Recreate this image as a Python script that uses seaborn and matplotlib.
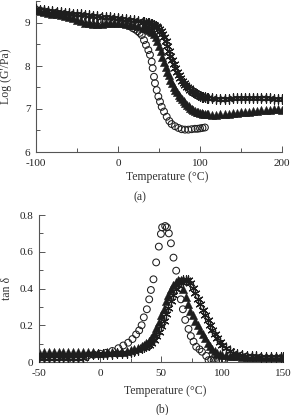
import matplotlib
matplotlib.use("Agg")
import matplotlib.pyplot as plt
import seaborn as sns
from matplotlib.ticker import MultipleLocator

# ---- (a) storage modulus, log G' vs temperature ----
# sampled temperatures: coarse on the plateaus, fine through the transition
temp_a = list(range(-100, 31, 5)) + list(range(32, 111, 2)) + list(range(115, 201, 5))
logg_tri = [9.30, 9.28, 9.26, 9.24, 9.22, 9.20, 9.18, 9.16, 9.14, 9.11,
            9.08, 9.04, 9.01, 8.99, 8.98, 8.98, 8.98, 8.99, 9.01, 9.01,
            9.00, 8.99, 8.98, 8.96, 8.95, 8.93, 8.90,
            8.89, 8.88, 8.86, 8.84, 8.82, 8.78, 8.74, 8.68, 8.58, 8.46,
            8.34, 8.22, 8.10, 7.98, 7.87, 7.78, 7.68, 7.60, 7.52, 7.45,
            7.39, 7.33, 7.28, 7.23, 7.18, 7.14, 7.10, 7.06, 7.03, 7.00,
            6.98, 6.96, 6.94, 6.92, 6.91, 6.90, 6.89, 6.89, 6.88, 6.88,
            6.87, 6.87, 6.88, 6.88, 6.89, 6.90, 6.91, 6.92, 6.93, 6.94,
            6.95, 6.96, 6.97, 6.98, 6.98, 6.99, 6.99, 6.98]
logg_star = [9.33, 9.31, 9.30, 9.29, 9.28, 9.26, 9.25, 9.24, 9.23, 9.22,
             9.21, 9.20, 9.19, 9.18, 9.17, 9.16, 9.15, 9.14, 9.13, 9.12,
             9.11, 9.10, 9.09, 9.08, 9.06, 9.05, 9.03,
             9.02, 9.01, 9.00, 8.99, 8.98, 8.97, 8.95, 8.92, 8.90, 8.86,
             8.81, 8.75, 8.67, 8.57, 8.46, 8.35, 8.24, 8.13, 8.04, 7.95,
             7.87, 7.79, 7.72, 7.66, 7.60, 7.56, 7.52, 7.48, 7.45, 7.42,
             7.39, 7.37, 7.34, 7.32, 7.30, 7.29, 7.28, 7.27, 7.26, 7.26,
             7.25, 7.24, 7.24, 7.24, 7.24, 7.25, 7.25, 7.25, 7.26, 7.26,
             7.26, 7.26, 7.25, 7.25, 7.25, 7.24, 7.24, 7.23]
temp_a_circ = [-100, -95, -90, -85, -80, -75, -70, -65, -60, -55, -50, -45,
               -40, -35, -30, -25, -20, -15, -10, -5, 0, 5, 10, 15,
               18, 21, 24, 26.5, 28.9, 31.7, 34.1, 37, 39, 41.1,
               42.3, 43.9, 45.1, 47.2, 49.2, 51.2, 53.3, 56.1, 59.4, 62.6,
               65.4, 69.5, 73.6, 77.6, 81.7, 85.8, 89.8, 93.9, 97, 100,
               103, 106]
logg_circ = [9.31, 9.29, 9.27, 9.25, 9.23, 9.21, 9.19, 9.17, 9.15, 9.13, 9.11, 9.09,
             9.08, 9.07, 9.06, 9.05, 9.04, 9.03, 9.02, 9.01, 9.00, 8.98, 8.96, 8.92,
             8.88, 8.85, 8.81, 8.77, 8.72, 8.60, 8.49, 8.37, 8.26, 8.10,
             7.95, 7.75, 7.60, 7.44, 7.29, 7.17, 7.05, 6.94, 6.82, 6.72,
             6.65, 6.60, 6.56, 6.53, 6.52, 6.52, 6.53, 6.54, 6.54, 6.55,
             6.56, 6.57]

# ---- (b) tan delta vs temperature ----
temp_b = [-50, -46, -42, -38, -34, -30, -26, -22, -18, -14, -10, -6, -2,
          2, 6, 10, 14, 18, 22, 25, 28, 31, 34,
          36, 38, 40, 42, 44, 46, 48, 50, 52, 54, 56, 58, 60, 62, 64, 66,
          68, 70, 72, 74, 76, 78, 80, 82, 84, 86, 88, 90, 92, 94, 96, 98, 100,
          103, 106, 109, 112, 116, 120, 124, 128, 132, 136, 140, 144, 148, 150]
tan_tri = [.056, .056, .055, .055, .055, .054, .054, .054, .053, .053, .052, .052, .051,
           .051, .052, .053, .055, .057, .060, .065, .070, .078, .087,
           .095, .104, .115, .130, .155, .185, .220, .255, .290, .330, .365, .395, .420, .437, .446, .445,
           .400, .355, .315, .280, .255, .225, .200, .175, .152, .130, .105, .085, .070, .058, .050, .044, .040,
           .036, .033, .031, .030, .029, .028, .028, .027, .027, .026, .026, .025, .025, .025]
tan_star = [.022, .022, .021, .021, .021, .020, .020, .020, .020, .021, .040, .042, .043,
            .044, .045, .046, .047, .048, .050, .055, .060, .066, .074,
            .080, .087, .095, .105, .120, .140, .165, .195, .225, .260, .295, .330, .365, .395, .420, .437,
            .446, .447, .445, .430, .405, .375, .345, .315, .285, .255, .228, .200, .175, .150, .130, .110, .093,
            .075, .060, .050, .043, .037, .033, .031, .030, .029, .028, .028, .027, .027, .027]
temp_b_circ = [-50, -45, -40, -35, -30, -25, -20, -15, -10, -5, 0, 5, 10, 15,
               19, 23, 26.5, 29.5, 32, 34, 35.8, 38.3, 40.2, 41.6, 43.7, 45.9,
               48.1, 49.8, 50.8, 53.3, 54.7, 56.3, 58, 60.1, 62.3, 64.2, 66.1,
               67.8, 69.7, 72.4, 74.3, 76.5, 78.7, 81.4, 83.4, 86.9, 88.8,
               91, 93, 95, 97, 100, 102]
tan_circ = [.030, .030, .030, .030, .030, .030, .030, .030, .035, .040, .045, .050, .060, .075,
            .090, .105, .125, .150, .172, .200, .243, .287, .341, .392, .450, .542,
            .628, .697, .733, .740, .733, .700, .646, .568, .497, .420, .341,
            .287, .229, .180, .141, .111, .083, .069, .056, .033, .010,
            .012, .008, .008, .010, .012, .015]

sns.set_style("ticks")
plt.rcParams["font.family"] = ["Liberation Serif", "DejaVu Serif"]
plt.rcParams["axes.unicode_minus"] = False
ink = "#1e1e1e"

fig = plt.figure(figsize=(2.93, 4.15), dpi=100)
ax1 = fig.add_axes([36 / 293, 1 - 152 / 415, 246 / 293, 150.5 / 415])
ax2 = fig.add_axes([39 / 293, 1 - 362 / 415, 244.3 / 293, 147 / 415])


def draw(ax, tx, ty, sx, sy, cx, cy):
    sns.scatterplot(x=tx, y=ty, ax=ax, marker="^", s=36, color=ink,
                    edgecolor=ink, linewidth=0.3, legend=False, zorder=2)
    sns.scatterplot(x=sx, y=sy, ax=ax, marker=(6, 2, 0), s=44, color=ink,
                    linewidth=0.9, legend=False, zorder=3)
    sns.scatterplot(x=cx, y=cy, ax=ax, marker="o", s=24, color="none",
                    edgecolor=ink, linewidth=0.75, legend=False, zorder=4)


draw(ax1, temp_a, logg_tri, temp_a, logg_star, temp_a_circ, logg_circ)
draw(ax2, temp_b, tan_tri, temp_b, tan_star, temp_b_circ, tan_circ)

ax1.set_xlim(-100, 200)
ax1.set_ylim(6, 9.5)
ax1.xaxis.set_major_locator(MultipleLocator(100))
ax1.xaxis.set_minor_locator(MultipleLocator(50))
ax1.yaxis.set_major_locator(MultipleLocator(1))
ax1.yaxis.set_minor_locator(MultipleLocator(0.5))

ax2.set_xlim(-50, 150)
ax2.set_ylim(0, 0.8)
ax2.xaxis.set_major_locator(MultipleLocator(50))
ax2.xaxis.set_minor_locator(MultipleLocator(25))
ax2.yaxis.set_major_locator(MultipleLocator(0.2))
ax2.yaxis.set_minor_locator(MultipleLocator(0.1))
ax2.yaxis.set_major_formatter(lambda v, p: "0" if v == 0 else f"{v:.1f}")

for ax in (ax1, ax2):
    sns.despine(ax=ax)
    for s in ("left", "bottom"):
        ax.spines[s].set_linewidth(0.8)
        ax.spines[s].set_color("#555555")
    ax.tick_params(which="major", direction="in", length=4, width=0.7,
                   labelsize=8, colors="#555555", labelcolor="#222222")
    ax.tick_params(which="minor", direction="in", length=3, width=0.7,
                   colors="#555555")
    ax.tick_params(axis="x", which="major", pad=5)
    ax.tick_params(axis="y", which="major", pad=4)

ax1.set_xlabel("Temperature (°C)", fontsize=8.5, color="#333333")
ax1.set_ylabel("Log (G'/Pa)", fontsize=8.5, color="#333333")
ax1.xaxis.set_label_coords(0.533, -0.125)
ax1.yaxis.set_label_coords(-0.098, 0.5)

ax2.set_xlabel("Temperature (°C)", fontsize=8.5, color="#333333")
ax2.set_ylabel("tan δ", fontsize=8.5, color="#333333")
ax2.xaxis.set_label_coords(0.516, -0.155)
ax2.yaxis.set_label_coords(-0.107, 0.5)

fig.text(140 / 293, 1 - 197 / 415, "(a)", ha="center", va="center",
         fontsize=8.5, color="#333333")
fig.text(162.5 / 293, 1 - 409 / 415, "(b)", ha="center", va="center",
         fontsize=8.5, color="#333333")

fig.savefig("out.png", dpi=100)
